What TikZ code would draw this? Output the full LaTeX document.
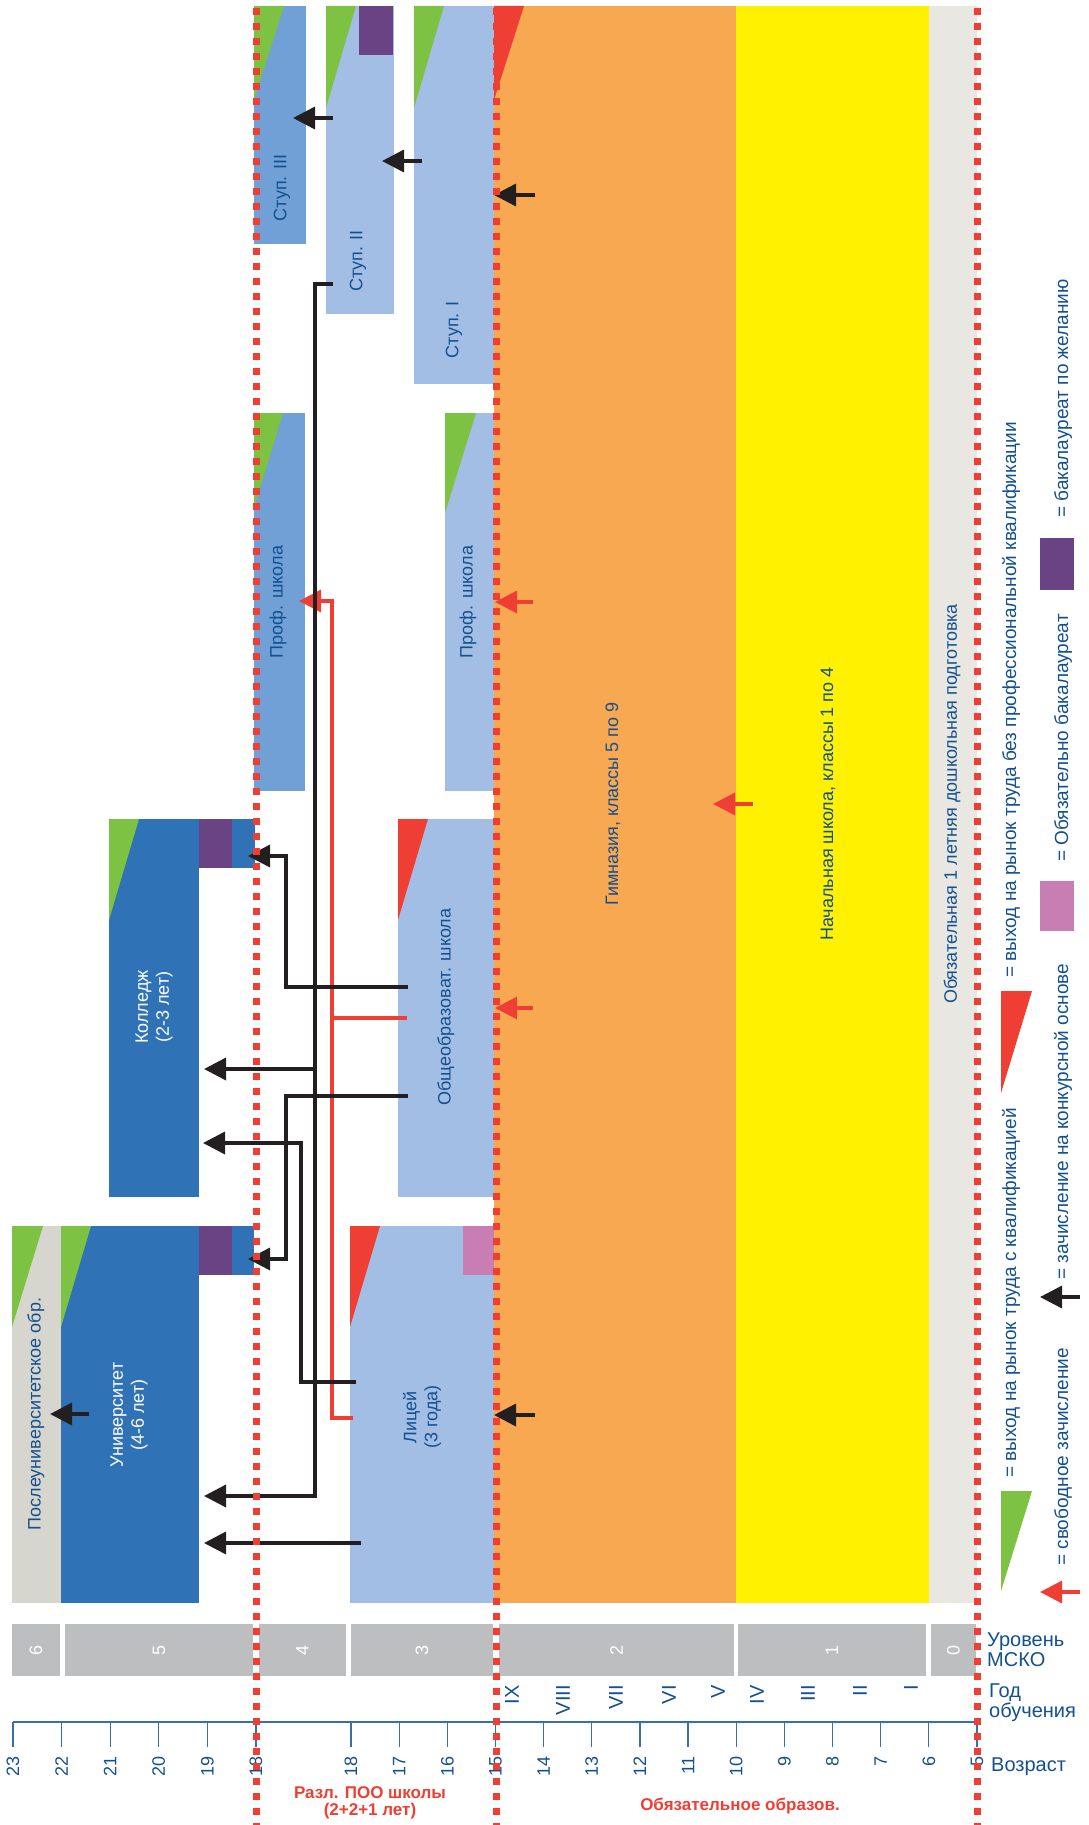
\documentclass[tikz,border=0pt]{standalone}
\usepackage{fontspec}
\setmainfont{Liberation Sans}
\usetikzlibrary{positioning, arrows.meta, calc}
\definecolor{uniblue}{HTML}{2F72B5}
\definecolor{midblue}{HTML}{70A0D6}
\definecolor{paleblue}{HTML}{A3BEE4}
\definecolor{gymorange}{HTML}{F8A851}
\definecolor{primyellow}{HTML}{FFF100}
\definecolor{preschgrey}{HTML}{E8E7E2}
\definecolor{postgrey}{HTML}{D6D6CE}
\definecolor{iscedgrey}{HTML}{BCBEC0}
\definecolor{qualgreen}{HTML}{7DC242}
\definecolor{exitred}{HTML}{EF3E33}
\definecolor{bacpurple}{HTML}{6A4385}
\definecolor{bacpink}{HTML}{C87DB3}
\definecolor{navy}{HTML}{13508F}
\definecolor{arrowblack}{HTML}{231F20}
\definecolor{axisblue}{HTML}{3A6EA5}
\tikzset{
  stage/.style    ={inner sep=0pt, outer sep=0pt, anchor=north west},
  boxlbl/.style   ={rotate=90, inner sep=0pt, align=center, text=navy,
                    font=\fontsize{18}{21}\selectfont},
  boxlblW/.style  ={boxlbl, text=white},
  iscedlbl/.style ={rotate=90, inner sep=0pt, text=white,
                    font=\fontsize{18}{21}\selectfont},
  agelbl/.style   ={rotate=90, inner sep=0pt, anchor=east, text=navy,
                    font=\fontsize{18}{21}\selectfont},
  gradelbl/.style ={rotate=90, inner sep=0pt, anchor=east, text=navy,
                    font=\fontsize{20}{22}\selectfont},
  axislbl/.style  ={inner sep=0pt, anchor=north west, align=left, text=navy,
                    font=\fontsize{20}{20}\selectfont},
  zonelbl/.style  ={inner sep=0pt, align=center, text=exitred,
                    font=\bfseries\fontsize{17}{17}\selectfont},
  leglbl/.style   ={rotate=90, inner sep=0pt, anchor=west, text=navy,
                    font=\fontsize{19}{21}\selectfont},
  enrol/.style    ={-{Triangle[length=22pt, width=22pt]}, arrowblack, line width=3.5pt},
  freeway/.style  ={-{Triangle[length=22pt, width=22pt]}, exitred, line width=3.2pt},
  freeline/.style ={exitred, line width=3.2pt},
  agebound/.style ={exitred, line width=7pt, dash pattern=on 7pt off 8pt},
}

\begin{document}
\begin{tikzpicture}[x=1pt, y=-1pt]
\useasboundingbox (0,0) rectangle (1088,1825);

% --- compulsory school columns ---
\node[stage, fill=gymorange, minimum width=242pt, minimum height=1597pt] (gym) at (494,6) {};
\node[stage, fill=primyellow, minimum width=193pt, minimum height=1597pt] (prim) at (736,6) {};
\node[stage, fill=preschgrey, minimum width=48pt, minimum height=1597pt] (presch) at (929,6) {};
\fill[exitred] (gym.north west) -- ++(30,0) -- ++(-30,94) -- cycle;

\node[boxlbl] (gym-t)    at (613,804) {Гимназия, классы 5 по 9};
\node[boxlbl] (prim-t)   at (828,804) {Начальная школа, классы 1 по 4};
\node[boxlbl] (presch-t) at (952,804) {Обязательная 1 летняя дошкольная подготовка};

% --- steps of the vocational track ---
\node[stage, fill=paleblue, minimum width=80pt, minimum height=378pt] (stup1) at (414,6) {};
\node[stage, fill=paleblue, minimum width=68pt, minimum height=308pt] (stup2) at (326,6) {};
\node[stage, fill=midblue, minimum width=52pt, minimum height=238pt] (stup3) at (254,6) {};
\node[stage, fill=bacpurple, minimum width=34pt, minimum height=49pt] (stup2-bac) at (359,6) {};
\fill[qualgreen] (stup1.north west) -- ++(30,0) -- ++(-30,102) -- cycle;
\fill[qualgreen] (stup2.north west) -- ++(30,0) -- ++(-30,102) -- cycle;
\fill[qualgreen] (stup3.north west) -- ++(30,0) -- ++(-30,94) -- cycle;

\node[boxlbl] (stup1-t) at (454,330) {Ступ. I};
\node[boxlbl] (stup2-t) at (358,261) {Ступ. II};
\node[boxlbl] (stup3-t) at (282,188) {Ступ. III};

% --- vocational schools ---
\node[stage, fill=paleblue, minimum width=49pt, minimum height=378pt] (profA) at (445,413) {};
\node[stage, fill=midblue, minimum width=51pt, minimum height=378pt] (profB) at (254,413) {};
\fill[qualgreen] (profA.north west) -- ++(31,0) -- ++(-31,100) -- cycle;
\fill[qualgreen] (profB.north west) -- ++(29,0) -- ++(-29,95) -- cycle;

\node[boxlbl] (profA-t) at (468,602) {Проф. школа};
\node[boxlbl] (profB-t) at (278,602) {Проф. школа};

% --- general school and lyceum ---
\node[stage, fill=paleblue, minimum width=96pt, minimum height=378pt] (obsch) at (398,819) {};
\node[stage, fill=paleblue, minimum width=144pt, minimum height=377pt] (lyc) at (350,1226) {};
\node[stage, fill=bacpink, minimum width=31pt, minimum height=49pt] (lyc-bac) at (463,1226) {};
\fill[exitred] (obsch.north west) -- ++(30,0) -- ++(-30,101) -- cycle;
\fill[exitred] (lyc.north west) -- ++(30,0) -- ++(-30,101) -- cycle;

\node[boxlbl] (obsch-t) at (446,1007) {Общеобразоват. школа};
\node[boxlbl] (lyc-t)   at (422,1417) {Лицей\\(3 года)};

% --- college, university, postgraduate ---
\node[stage, fill=uniblue, minimum width=90pt, minimum height=378pt] (coll) at (109,819) {};
\node[stage, fill=uniblue, minimum width=56pt, minimum height=49pt] (coll-x) at (199,819) {};
\node[stage, fill=bacpurple, minimum width=33pt, minimum height=49pt] (coll-bac) at (199,819) {};
\node[stage, fill=uniblue, minimum width=138pt, minimum height=377pt] (uni) at (61,1226) {};
\node[stage, fill=uniblue, minimum width=55pt, minimum height=49pt] (uni-x) at (199,1226) {};
\node[stage, fill=bacpurple, minimum width=33pt, minimum height=49pt] (uni-bac) at (199,1226) {};
\node[stage, fill=postgrey, minimum width=49pt, minimum height=377pt] (post) at (12,1226) {};
\fill[qualgreen] (coll.north west) -- ++(30,0) -- ++(-30,101) -- cycle;
\fill[qualgreen] (uni.north west) -- ++(30,0) -- ++(-30,101) -- cycle;
\fill[qualgreen] (post.north west) -- ++(31,0) -- ++(-31,101) -- cycle;

\node[boxlblW] (coll-t) at (154,1007) {Колледж\\(2-3 лет)};
\node[boxlblW] (uni-t)  at (129,1415) {Университет\\(4-6 лет)};
\node[boxlbl]  (post-t) at (36,1414) {Послеуниверситетское обр.};

% --- connector ends ---
\coordinate (s1-in)    at (494,195);
\coordinate (s2-in)    at (382,161);
\coordinate (s3-in)    at (293,118);
\coordinate (post-in)  at (50,1414);
\coordinate (lyc-in)   at (494,1415);
\coordinate (gym-in)   at (713,804);
\coordinate (profA-in) at (495,602);
\coordinate (obsch-in) at (495,1008);
\coordinate (s2-out)   at (333,284);
\coordinate (s2-fork)  at (315,1069);
\coordinate (coll-inA) at (248,856);
\coordinate (coll-inB) at (204,1069);
\coordinate (coll-inC) at (203,1143);
\coordinate (uni-inA)  at (248,1259);
\coordinate (uni-inB)  at (204,1496);
\coordinate (uni-inC)  at (204,1543);
\coordinate (obsch-outA) at (408,987);
\coordinate (obsch-outB) at (408,1096);
\coordinate (obsch-outR) at (407,1018);
\coordinate (red-fork)   at (332,1018);
\coordinate (lyc-outA)   at (356,1382);
\coordinate (lyc-outB)   at (361,1543);
\coordinate (lyc-outR)   at (353,1418);
\coordinate (profB-in)   at (299,601);

% --- free enrolment ---
\draw[freeway] ([xshift=40pt]gym-in) -- (gym-in);
\draw[freeway] ([xshift=38pt]profA-in) -- (profA-in);
\draw[freeway] ([xshift=38pt]obsch-in) -- (obsch-in);
\draw[freeway] (lyc-outR) -| ([xshift=33pt]profB-in) -- (profB-in);
\draw[freeline] (obsch-outR) -- (red-fork);

% --- competitive enrolment ---
\draw[enrol] ([xshift=41pt]s1-in) -- (s1-in);
\draw[enrol] ([xshift=40pt]s2-in) -- (s2-in);
\draw[enrol] ([xshift=40pt]s3-in) -- (s3-in);
\draw[enrol] ([xshift=41pt]lyc-in) -- (lyc-in);
\draw[enrol] ([xshift=39pt]post-in) -- (post-in);
\draw[enrol] (s2-out) -| (s2-fork) |- (uni-inB);
\draw[enrol] (s2-fork) -- (coll-inB);
\draw[enrol] (obsch-outA) -| ([xshift=38pt]coll-inA) -- (coll-inA);
\draw[enrol] (obsch-outB) -| ([xshift=38pt]uni-inA) -- (uni-inA);
\draw[enrol] (lyc-outA) -| ([xshift=98pt]coll-inC) -- (coll-inC);
\draw[enrol] (lyc-outB) -- (uni-inC);

% --- ISCED levels ---
\foreach \lvl/\xa/\xb in {6/12/60, 5/65/253, 4/259/346, 3/351/493, 2/499/734, 1/738/926, 0/931/976} {
  \fill[iscedgrey] (\xa,1624) rectangle (\xb,1676);
  \node[iscedlbl] (isced-\lvl) at ({(\xa+\xb)/2},1650) {\lvl};
}

% --- school years ---
\foreach \g/\x in {IX/512, VIII/563, VII/616, VI/669, V/718, IV/757, III/808, II/860, I/911}
  \node[gradelbl] (grade-\g) at (\x,1685) {\g};

% --- age axis ---
\draw[axisblue, line width=1.6pt] (13,1722) -- (977,1722);
\foreach \a [evaluate=\a as \x using {13+(23-\a)*48.6}] in {18,...,23} {
  \draw[axisblue, line width=1.2pt] (\x,1722) -- (\x,1747);
  \node[agelbl] (ageL-\a) at (\x,1756) {\a};
}
\foreach \a [evaluate=\a as \x using {351+(18-\a)*48.15}] in {5,...,18} {
  \draw[axisblue, line width=1.2pt] (\x,1722) -- (\x,1747);
  \node[agelbl] (ageR-\a) at (\x,1756) {\a};
}

\node[axislbl] (lbl-isced) at (987,1633) {Уровень\\МСКО};
\node[axislbl] (lbl-grade) at (989,1684) {Год\\обучения};
\node[axislbl] (lbl-age)   at (991,1758) {Возраст};

\node[zonelbl] (zone-vet)  at (370,1803) {Разл. ПОО школы\\(2+2+1 лет)};
\node[zonelbl] (zone-comp) at (740,1806) {Обязательное образов.};

% --- age boundaries ---
\foreach \x in {256, 496, 977}
  \draw[agebound] (\x,8) -- (\x,1825);

% --- legend ---
\coordinate (leg-qual)  at (1001,1491);
\coordinate (leg-exit)  at (1001,991);
\coordinate (leg-free)  at (1040,1592);
\coordinate (leg-comp)  at (1040,1297);
\fill[qualgreen] (leg-qual) -- ++(31,0) -- ++(-31,100) -- cycle;
\fill[exitred] (leg-exit) -- ++(31,0) -- ++(-31,102) -- cycle;
\draw[freeway] ([xshift=40pt]leg-free) -- (leg-free);
\draw[enrol] ([xshift=40pt]leg-comp) -- (leg-comp);
\node[stage, fill=bacpink, minimum width=34pt, minimum height=50pt] (leg-pink) at (1040,881) {};
\node[stage, fill=bacpurple, minimum width=34pt, minimum height=52pt] (leg-purple) at (1040,538) {};

\node[leglbl] (leg-qual-t)   at (1011,1478) {= выход на рынок труда с квалификацией};
\node[leglbl] (leg-exit-t)   at (1011,978)  {= выход на рынок труда без профессиональной квалификации};
\node[leglbl] (leg-free-t)   at (1063,1566) {= свободное зачисление};
\node[leglbl] (leg-comp-t)   at (1063,1280) {= зачисление на конкурсной основе};
\node[leglbl] (leg-pink-t)   at (1063,862)  {= Обязательно бакалауреат};
\node[leglbl] (leg-purple-t) at (1063,518)  {= бакалауреат по желанию};

\end{tikzpicture}
\end{document}
